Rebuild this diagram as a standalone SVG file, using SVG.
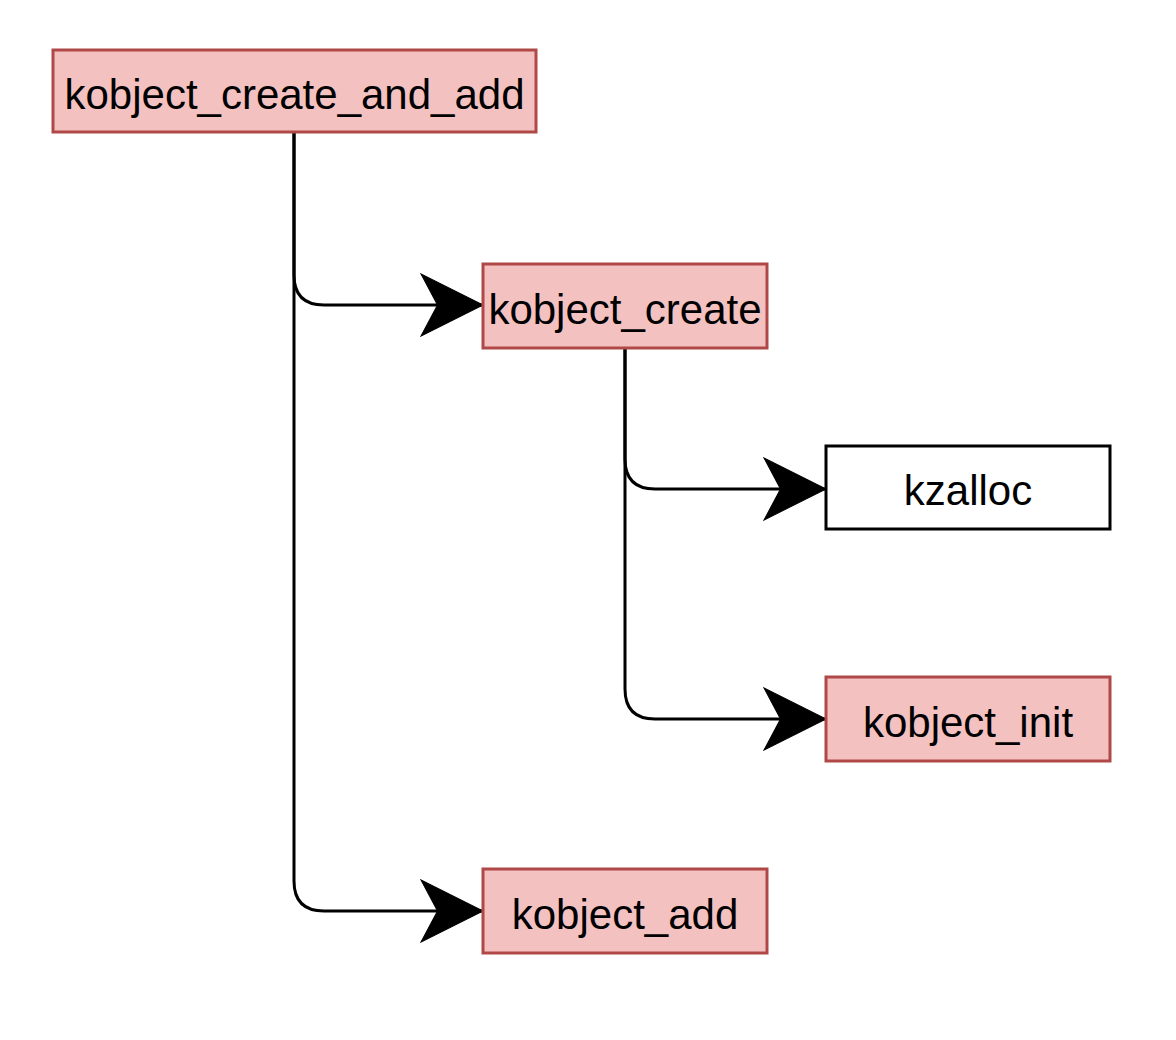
<svg xmlns="http://www.w3.org/2000/svg" width="1176" height="1040" viewBox="0 0 1176 1040">
<style>
.box{fill:#f4c1c1;stroke:#b04848;stroke-width:3}
.plain{fill:#ffffff;stroke:#000000;stroke-width:3}
.lbl{font-family:"Liberation Sans",Arial,sans-serif;font-size:42px;fill:#000;text-anchor:middle}
.edge{fill:none;stroke:#000;stroke-width:3;stroke-linejoin:round}
</style>
<defs>
<marker id="arrow" markerUnits="userSpaceOnUse" markerWidth="62" markerHeight="62" viewBox="0 0 60 60" refX="60" refY="30" orient="auto" overflow="visible">
<path d="M0,0 L60,30 L0,60 L16,30 Z" fill="#000" stroke="#000" stroke-width="1"/>
</marker>
</defs>
<rect width="1176" height="1040" fill="#ffffff"/>
<g id="connectors">
<path class="edge" d="M294,133 V275 Q294,305 324,305 H483" marker-end="url(#arrow)"/>
<path class="edge" d="M294,133 V881 Q294,911 324,911 H483" marker-end="url(#arrow)"/>
<path class="edge" d="M625,348 V459 Q625,489 655,489 H826" marker-end="url(#arrow)"/>
<path class="edge" d="M625,348 V689 Q625,719 655,719 H826" marker-end="url(#arrow)"/>
</g>
<g id="kobject_create_and_add">
<rect class="box" x="53" y="50" width="483" height="82"/>
<text class="lbl" x="294.5" y="109">kobject_create_and_add</text>
</g>
<g id="kobject_create">
<rect class="box" x="483" y="264" width="284" height="84"/>
<text class="lbl" x="625" y="324">kobject_create</text>
</g>
<g id="kzalloc">
<rect class="plain" x="826" y="446" width="284" height="83"/>
<text class="lbl" x="968" y="505">kzalloc</text>
</g>
<g id="kobject_init">
<rect class="box" x="826" y="677" width="284" height="84"/>
<text class="lbl" x="968" y="737">kobject_init</text>
</g>
<g id="kobject_add">
<rect class="box" x="483" y="869" width="284" height="84"/>
<text class="lbl" x="625" y="929">kobject_add</text>
</g>
</svg>
